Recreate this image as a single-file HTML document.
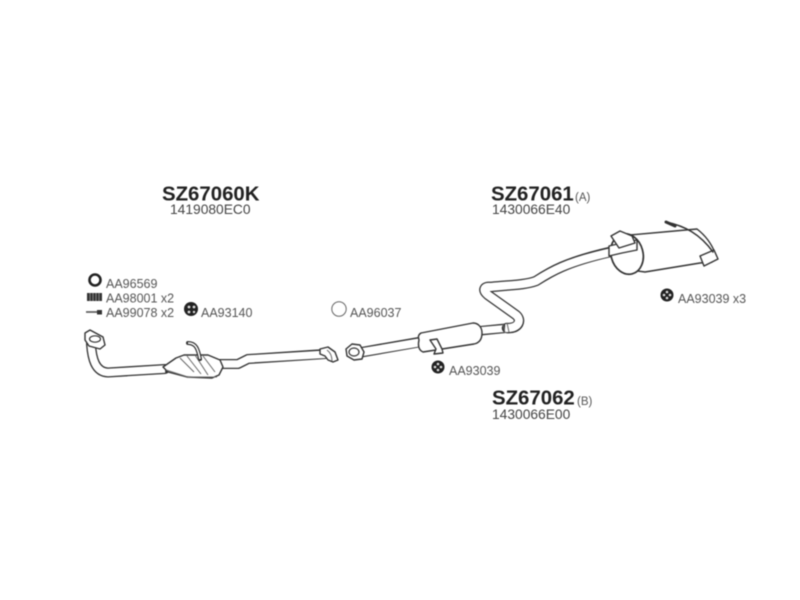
<!DOCTYPE html>
<html>
<head>
<meta charset="utf-8">
<style>
html,body{margin:0;padding:0;background:#fff}
svg{display:block;filter:blur(.5px)}
text{font-family:"Liberation Sans",sans-serif;fill:#333}
.b{font-size:20.4px;font-weight:bold;fill:#222}
.n{font-size:13.8px;fill:#444}
.s{font-size:12.5px;fill:#555}
.x{font-size:11.5px;fill:#555}
.o{fill:none;stroke:#333;stroke-linejoin:round;stroke-linecap:round}
.i{fill:none;stroke:#fff;stroke-linejoin:round;stroke-linecap:butt}
.f{fill:#fff;stroke:#333;stroke-width:1.4;stroke-linejoin:round}
.l{fill:none;stroke:#666;stroke-width:1}
</style>
</head>
<body>
<svg width="800" height="600" viewBox="0 0 800 600" xmlns="http://www.w3.org/2000/svg">
<rect width="800" height="600" fill="#fff"/>

<text class="b" x="162" y="200.5">SZ67060K</text>
<text class="n" x="170" y="214">1419080EC0</text>
<text class="b" x="491" y="200.5">SZ67061</text>
<text class="x" x="575" y="201">(A)</text>
<text class="n" x="492" y="214">1430066E40</text>
<text class="b" x="492" y="404.5">SZ67062</text>
<text class="x" x="577" y="405">(B)</text>
<text class="n" x="492" y="419">1430066E00</text>

<circle cx="95" cy="280" r="5.5" fill="none" stroke="#222" stroke-width="2.6"/>
<text class="s" x="106" y="288">AA96569</text>
<rect x="87" y="293" width="15" height="8" fill="#333"/>
<path d="M90 293v8M93 293v8M96 293v8M99 293v8" stroke="#999" stroke-width=".8"/>
<text class="s" x="106" y="302.5">AA98001 x2</text>
<path d="M86 312H97" stroke="#555" stroke-width="1.6"/>
<rect x="97" y="310" width="5" height="4.5" fill="#333"/>
<text class="s" x="106" y="317">AA99078 x2</text>
<circle cx="191" cy="309" r="7" fill="#222"/>
<circle cx="189" cy="307" r="1.4" fill="#ddd"/><circle cx="194" cy="307" r="1.4" fill="#ddd"/><circle cx="189" cy="312" r="1.4" fill="#ddd"/><circle cx="194" cy="312" r="1.2" fill="#ddd"/>
<text class="s" x="201" y="317">AA93140</text>

<circle cx="339" cy="309" r="7.2" fill="none" stroke="#666" stroke-width="1"/>
<text class="s" x="350" y="317">AA96037</text>

<circle cx="438" cy="367" r="6.5" fill="#222"/>
<circle cx="435" cy="367" r="1.3" fill="#ddd"/><circle cx="441" cy="367" r="1.3" fill="#ddd"/><circle cx="438" cy="364" r="1.3" fill="#ddd"/><circle cx="438" cy="370" r="1.3" fill="#ddd"/>
<text class="s" x="449" y="375">AA93039</text>

<circle cx="667" cy="295" r="6.5" fill="#222"/>
<circle cx="664" cy="295" r="1.3" fill="#ddd"/><circle cx="670" cy="295" r="1.3" fill="#ddd"/><circle cx="667" cy="292" r="1.3" fill="#ddd"/><circle cx="667" cy="298" r="1.3" fill="#ddd"/>
<text class="s" x="678" y="303">AA93039 x3</text>

<!-- front pipe -->
<path class="o" stroke-width="10" d="M91 344C92 358 95 372 108 372.5L165 369"/>
<path class="i" stroke-width="7.4" d="M91 344C92 358 95 372 108 372.5L165 369"/>
<path class="f" d="M85 333L90 330L103 337L105 345L100 349L89 346L85 340Z"/>
<ellipse cx="95" cy="339" rx="5.5" ry="3.2" fill="none" stroke="#333" stroke-width="1.2"/>
<path class="o" stroke-width="10" d="M220 364H238L248 359L325 354"/>
<path class="i" stroke-width="7.4" d="M218 364H238L248 359L330 354"/>
<path class="f" d="M163 367L176 358L184 355L208 355L220 360L223 367L219 375L212 378L187 377L168 372Z"/>
<path class="l" d="M180 358L194 372M187 356L201 374M195 355L208 375M203 356L215 372M166 370L188 377H217"/>
<path class="o" stroke-width="4" d="M188 343C196 343 198 349 200 359"/>
<path class="i" stroke-width="1.6" d="M188 343C196 343 198 349 200 359"/>

<path class="f" d="M320 349L328 347L335 352L338 360L333 362L328 360L325 356L320 354Z"/>
<path class="l" d="M327 350C331 353 332 357 332 361"/>

<!-- centre pipe and resonator -->
<path class="o" stroke-width="10.5" d="M360 352.5L420 342"/>
<path class="i" stroke-width="8" d="M357 353L422 342"/>
<path class="f" d="M346 349L352 344L360 345L364 352L362 359L354 360L347 356Z"/>
<ellipse cx="354" cy="352" rx="5" ry="4" fill="#fff" stroke="#333" stroke-width="1.2"/>
<path class="o" stroke-width="9.5" d="M478 331L508 328"/>
<path class="i" stroke-width="7" d="M476 331L510 328"/>
<path class="f" d="M421 333L473 323C479 323 482 328 482 333C482 340 479 343 474 344L423 352C418 350 418 344 419 340C418 337 418 335 421 333Z"/>
<path class="f" d="M430 340L437 339L442 349L443 353L434 354L436 349Z"/>

<!-- rear pipe -->
<path class="o" stroke-width="10.5" stroke-linecap="butt" d="M507 328C519 329 522 320 516 315L488 295C482 290 484 286 491 287C510 285 525 285 536 281C550 272 566 262 610 252"/>
<path class="i" stroke-width="8" d="M505 328C519 329 522 320 516 315L488 295C482 290 484 286 491 287C510 285 525 285 536 281C550 272 566 262 612 252"/>
<path class="l" d="M503 324L505 333M507 323L509 332"/>

<!-- rear muffler -->
<path class="f" d="M630 235L697 229C706 236 712 245 715 253L712 262L700 263L645 272L630 270Z"/>
<ellipse cx="627" cy="254" rx="16" ry="20.5" transform="rotate(-15 627 254)" fill="#fff" stroke="#333" stroke-width="1.7"/>
<path class="f" d="M609 246L622 243L637 240L637 250L622 253L609 256Z"/>
<path class="f" d="M611 236L620 231L632 236L635 243L619 248Z"/>
<path class="f" d="M700 256L714 250L718 259L704 266Z"/>
<path class="o" stroke-width="1.5" d="M666 222C685 226 700 234 713 252"/>
<path class="o" stroke-width="3" d="M666 222L675 226"/>
</svg>
</body>
</html>
